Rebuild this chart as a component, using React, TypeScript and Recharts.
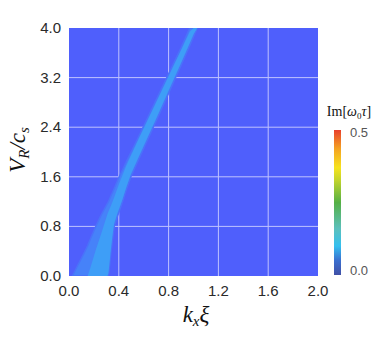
import { ComposedChart, Area, XAxis, YAxis, CartesianGrid } from "recharts";

// ridge of Im[w0 tau] > 0: V_R/c_s range per k_x xi
const kx = [0.027, 0.07, 0.121, 0.15, 0.17, 0.215, 0.26, 0.309, 0.317, 0.33, 0.336, 0.35, 0.363, 0.39, 0.403, 0.425, 0.46, 0.497, 0.55, 0.6, 0.7, 0.8, 0.9, 0.97, 1.0, 1.03];
const bandLow = [0, 0, 0, 0, 0, 0, 0, 0, 0, 0.25, 0.37, 0.6, 0.8, 0.97, 1.04, 1.17, 1.39, 1.6, 1.84, 2.06, 2.5, 2.95, 3.4, 3.72, 3.86, 4.0];
const bandHigh = [0, 0.17, 0.37, 0.49, 0.59, 0.8, 0.99, 1.17, 1.2, 1.26, 1.29, 1.35, 1.41, 1.54, 1.6, 1.69, 1.84, 1.99, 2.21, 2.42, 2.84, 3.26, 3.68, 4.0, 4.0, 4.0];
const coreLow = [0, 0, 0, 0, 0, 0, 0, 0, 0.05, 0.3, 0.42, 0.66, 0.85, 1.02, 1.09, 1.21, 1.43, 1.64, 1.88, 2.1, 2.54, 2.99, 3.44, 3.76, 3.9, 4.0];
const coreHigh = [0, 0, 0, 0, 0.12, 0.42, 0.69, 1.0, 1.04, 1.1, 1.13, 1.2, 1.27, 1.42, 1.49, 1.6, 1.78, 1.94, 2.17, 2.38, 2.8, 3.22, 3.64, 3.94, 4.0, 4.0];

const xTicks = [0, 0.4, 0.8, 1.2, 1.6, 2.0];
const yTicks = [0, 0.8, 1.6, 2.4, 3.2, 4.0];
const cbarLabels = ["0.5", "0.0"];

const data = kx.map((k, i) => ({
  kx: k,
  band: [bandLow[i], bandHigh[i]],
  core: [coreLow[i], coreHigh[i]],
}));

const sans = "'Liberation Sans', Arial, sans-serif";
const serif = "'Liberation Serif', 'Times New Roman', serif";

const XTick = ({ x, y, payload }: any) => (
  <text x={x} y={y} dy={12} textAnchor="middle" fontSize={15} fill="#2a2a2a" fontFamily={sans}>
    {Number(payload.value).toFixed(1)}
  </text>
);

const YTick = ({ x, y, payload }: any) => (
  <text x={x} y={y} dy={5} textAnchor="end" fontSize={15} fill="#2a2a2a" fontFamily={sans}>
    {Number(payload.value).toFixed(1)}
  </text>
);

export default function App() {
  return (
    <div style={{ position: "absolute", left: 0, top: 0, width: 382, height: 337, background: "#fff" }}>
      <ComposedChart width={382} height={337} data={data} margin={{ top: 28, right: 64, bottom: 31, left: 24 }}>
        <CartesianGrid
          fill="#4f5ffc"
          fillOpacity={1}
          stroke="#bfc3ff"
          strokeWidth={1}
          horizontalValues={[0.8, 1.6, 2.4, 3.2]}
          verticalValues={[0.4, 0.8, 1.2, 1.6]}
        />
        <XAxis
          type="number"
          dataKey="kx"
          domain={[0, 2]}
          ticks={xTicks}
          axisLine={false}
          tickLine={false}
          height={30}
          tick={<XTick />}
          interval={0}
          allowDataOverflow
        />
        <YAxis
          type="number"
          domain={[0, 4]}
          ticks={yTicks}
          axisLine={false}
          tickLine={false}
          width={45}
          tick={<YTick />}
          interval={0}
          allowDataOverflow
        />
        <Area type="linear" dataKey="band" stroke="#4a72fa" strokeWidth={1.5} fill="#4682f9" fillOpacity={1} isAnimationActive={false} dot={false} activeDot={false} />
        <Area type="linear" dataKey="core" stroke="none" fill="#3e9ef7" fillOpacity={1} isAnimationActive={false} dot={false} activeDot={false} />
      </ComposedChart>

      {/* axis titles and colour bar */}
      <svg width={382} height={337} style={{ position: "absolute", left: 0, top: 0, pointerEvents: "none" }}>
        <text x={196} y={322} textAnchor="middle" fontFamily={serif} fontStyle="italic" fontSize={23} fill="#111">
          k<tspan fontSize={15} dy={4}>x</tspan><tspan dy={-4}>ξ</tspan>
        </text>
        <text transform="translate(25,150) rotate(-90)" textAnchor="middle" fontFamily={serif} fontStyle="italic" fontSize={23} fill="#111">
          V<tspan fontSize={15} dy={4}>R</tspan><tspan dy={-4}>/c</tspan><tspan fontSize={15} dy={4}>s</tspan>
        </text>
        <text x={349} y={116} textAnchor="middle" fontFamily={serif} fontSize={14} fill="#111">
          Im[<tspan fontStyle="italic">ω</tspan><tspan fontSize={9} dy={3}>0</tspan><tspan dy={-3} fontStyle="italic">τ</tspan>]
        </text>
        <defs>
          <linearGradient id="cbar" x1="0" y1="1" x2="0" y2="0">
            <stop offset="0" stopColor="#4150a6" />
            <stop offset="0.1" stopColor="#3a6fcf" />
            <stop offset="0.2" stopColor="#34c0ef" />
            <stop offset="0.32" stopColor="#5cc0bc" />
            <stop offset="0.5" stopColor="#55b045" />
            <stop offset="0.66" stopColor="#c6d52c" />
            <stop offset="0.74" stopColor="#f6e31e" />
            <stop offset="0.87" stopColor="#f4a322" />
            <stop offset="1" stopColor="#e8402d" />
          </linearGradient>
        </defs>
        <rect x={334} y={130} width={7} height={145} fill="url(#cbar)" />
        <text x={350} y={137} fontFamily={sans} fontSize={13} fill="#555">{cbarLabels[0]}</text>
        <text x={350} y={275} fontFamily={sans} fontSize={13} fill="#555">{cbarLabels[1]}</text>
      </svg>
    </div>
  );
}
